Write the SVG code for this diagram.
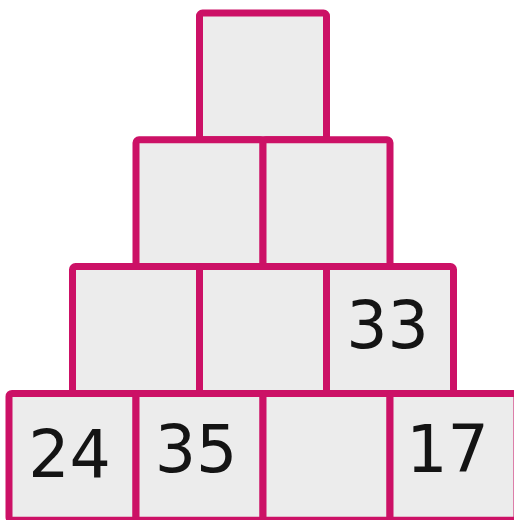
<svg xmlns="http://www.w3.org/2000/svg" width="514" height="520" viewBox="0 0 514 520">
<style>
.box{fill:#ececec;stroke:#cc1166;stroke-width:7;}
.num{font-family:"DejaVu Sans",sans-serif;font-size:65px;fill:#141414;text-anchor:middle;}
</style>
<rect width="514" height="520" fill="#ffffff"/>
<g id="r1c1"><rect class="box" x="199.5" y="13" width="127" height="126.8" rx="3"/></g>
<g id="r2c1"><rect class="box" x="136" y="139.8" width="127" height="126.8" rx="3"/></g>
<g id="r2c2"><rect class="box" x="263" y="139.8" width="127" height="126.8" rx="3"/></g>
<g id="r3c1"><rect class="box" x="72.5" y="266.6" width="127" height="126.8" rx="3"/></g>
<g id="r3c2"><rect class="box" x="199.5" y="266.6" width="127" height="126.8" rx="3"/></g>
<g id="r3c3"><rect class="box" x="326.5" y="266.6" width="127" height="126.8" rx="3"/><text class="num" x="387.5" y="348">33</text></g>
<g id="r4c1"><rect class="box" x="9" y="393.4" width="127" height="126.8" rx="3"/><text class="num" x="69.5" y="477">24</text></g>
<g id="r4c2"><rect class="box" x="136" y="393.4" width="127" height="126.8" rx="3"/><text class="num" x="196" y="471.5">35</text></g>
<g id="r4c3"><rect class="box" x="263" y="393.4" width="127" height="126.8" rx="3"/></g>
<g id="r4c4"><rect class="box" x="390" y="393.4" width="127" height="126.8" rx="3"/><text class="num" x="447.5" y="472">17</text></g>
<g id="connectors"></g>
</svg>
